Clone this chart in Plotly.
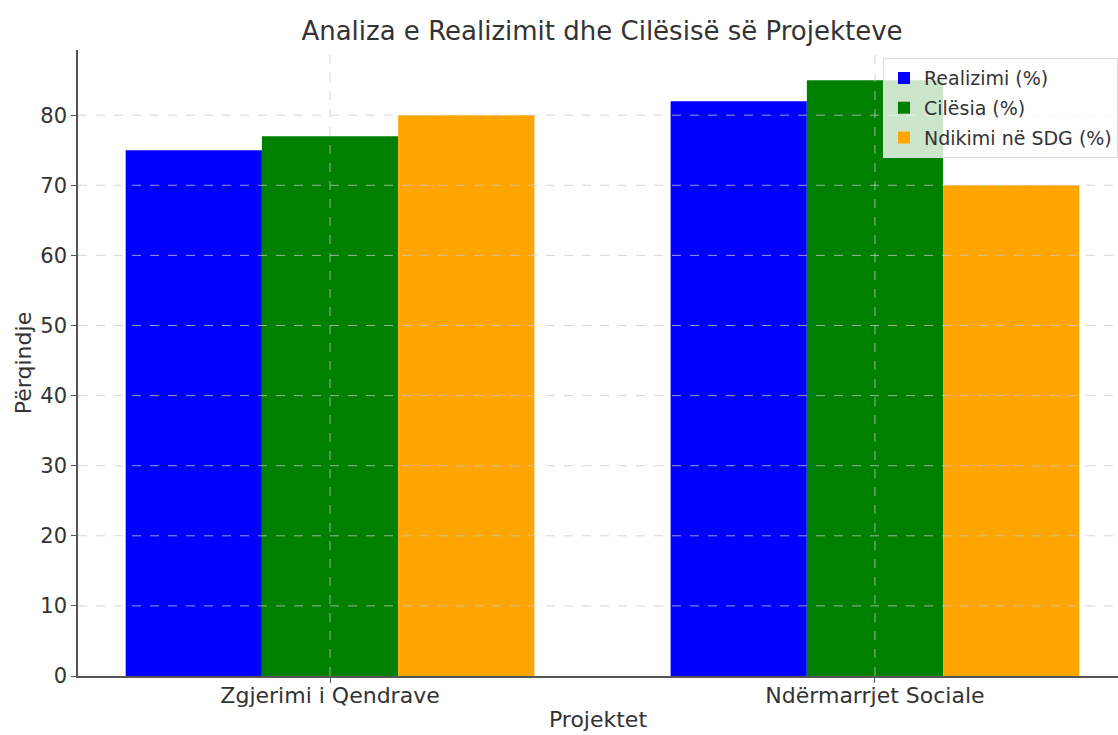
import plotly.graph_objects as go

projects = ["Zgjerimi i Qendrave", "Ndërmarrjet Sociale"]
realizimi = [75, 82]
cilesia = [77, 85]
ndikimi = [80, 70]
series_names = ["Realizimi (%)", "Cilësia (%)", "Ndikimi në SDG (%)"]
colors = ["blue", "green", "orange"]
y_ticks = [0, 10, 20, 30, 40, 50, 60, 70, 80]

font = "DejaVu Sans, Liberation Sans, sans-serif"
txt = "#333333"
fig = go.Figure()
for name, vals, col in zip(series_names, [realizimi, cilesia, ndikimi], colors):
    fig.add_trace(go.Bar(x=list(range(len(projects))), y=vals, name=name,
                         legendgroup=name,
                         marker=dict(color=col, line=dict(width=0))))

# dashed grid drawn above bars (as in matplotlib source)
grid_color = "rgba(200,200,200,0.75)"
for t in y_ticks[1:]:
    fig.add_shape(type="line", xref="paper", x0=0, x1=1, yref="y", y0=t, y1=t,
                  line=dict(color=grid_color, width=1, dash="dash"), layer="above")
for i in range(len(projects)):
    fig.add_shape(type="line", xref="x", x0=i, x1=i, yref="paper", y0=0, y1=1,
                  line=dict(color=grid_color, width=1, dash="dash"), layer="above")

fig.update_layout(
    width=1118, height=735,
    margin=dict(l=78, r=0, t=50, b=59, autoexpand=False),
    paper_bgcolor="white", plot_bgcolor="white",
    barmode="group", bargap=0.25, bargroupgap=0,
    font=dict(family=font, color=txt, size=22),
    title=dict(text="Analiza e Realizimit dhe Cilësisë së Projekteve",
               x=602 / 1118, xref="container", xanchor="center",
               y=1 - 31 / 735, yref="container",
               yanchor="middle", font=dict(size=26, color=txt)),
    xaxis=dict(tickmode="array", tickvals=list(range(len(projects))), ticktext=projects,
               range=[-0.4625, 1.446], showgrid=False, zeroline=False, automargin=False,
               showline=True, linecolor="#555555", linewidth=1.5,
               ticks="outside", ticklen=5, tickcolor="#555555",
               ticklabelstandoff=-6,
               tickfont=dict(size=22, color=txt),
               title=dict(text="Projektet", font=dict(size=22, color=txt), standoff=4)),
    yaxis=dict(range=[0, 89.3], tickvals=y_ticks, showgrid=False, zeroline=False,
               automargin=False,
               showline=True, linecolor="#555555", linewidth=1.5,
               ticks="outside", ticklen=5, tickcolor="#555555",
               tickfont=dict(size=21, color=txt),
               title=dict(text="Përqindje", font=dict(size=22, color=txt), standoff=3)),
    legend=dict(x=1.0, y=0.987, xanchor="right", yanchor="top",
                bgcolor="rgba(255,255,255,0.8)", bordercolor="#dddddd", borderwidth=1,
                font=dict(size=19, color=txt), itemwidth=30,
                traceorder="grouped", tracegroupgap=2),
    showlegend=True,
)

fig.write_html("out.html", config={"displayModeBar": False},
               post_script="document.body.style.margin='0';")
